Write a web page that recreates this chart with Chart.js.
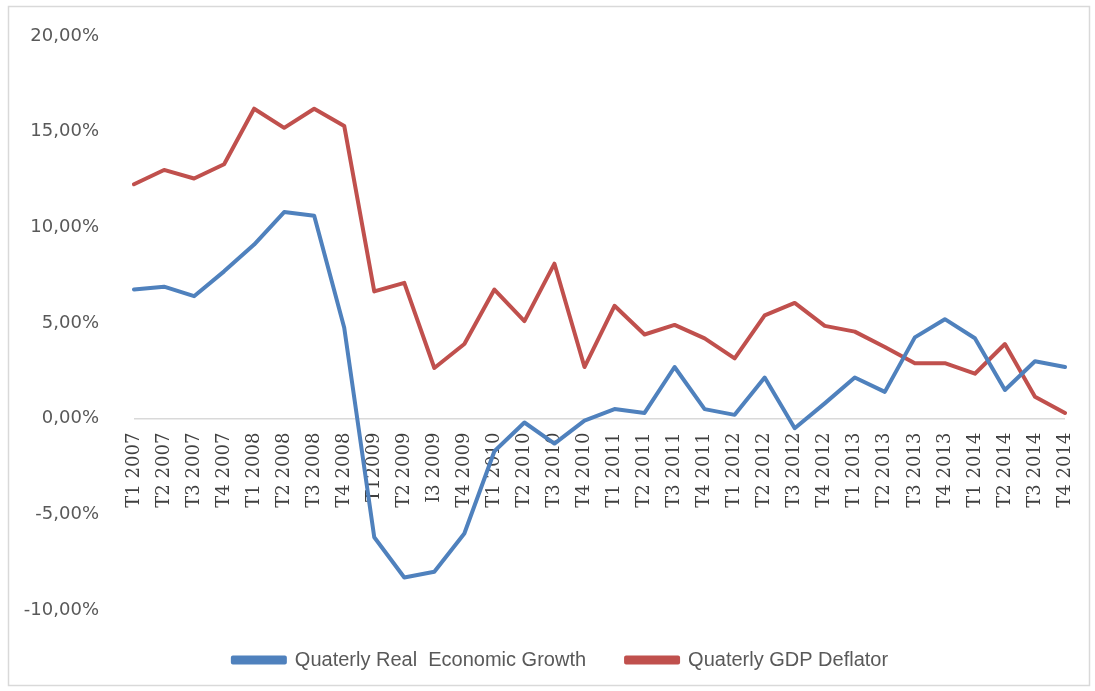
<!DOCTYPE html>
<html>
<head>
<meta charset="utf-8">
<script src="https://cdn.jsdelivr.net/npm/chart.js@4.4.1/dist/chart.umd.min.js"></script>
<style>
  html, body { margin: 0; padding: 0; background: #fff; }
  #wrap { width: 1095px; height: 691px; }
</style>
</head>
<body>
<div id="wrap"><canvas id="myLineChart"></canvas></div>
<script>
const quarters = [
  "T1 2007", "T2 2007", "T3 2007", "T4 2007",
  "T1 2008", "T? 2008", "T3 2008", "T4 2008",
  "T12009", "T2 2009", "I3 2009", "T4 2009",
  "T1 2010", "T2 2010", "T3 2010", "T4 2010",
  "T1 2011", "T2 2011", "T3 2011", "T4 2011",
  "T1 2012", "T2 2012", "T3 2012", "T4 2012",
  "T1 2013", "T2 2013", "T3 2013", "T4 2013",
  "T1 2014", "T2 2014", "T3 2014", "T4 2014",
];
quarters[5] = "T2 2008";

const realGrowth = [
  6.75, 6.9, 6.4, 7.7, 9.1, 10.8, 10.6, 4.75,
  -6.2, -8.3, -8.0, -6.0, -1.7, -0.2, -1.3, -0.1,
  0.5, 0.3, 2.7, 0.5, 0.2, 2.15, -0.5, 0.8,
  2.15, 1.4, 4.25, 5.2, 4.2, 1.5, 3.0, 2.7,
];

const gdpDeflator = [
  12.25, 13.0, 12.55, 13.3, 16.2, 15.2, 16.2, 15.3,
  6.65, 7.1, 2.65, 3.9, 6.75, 5.1, 8.1, 2.7,
  5.9, 4.4, 4.9, 4.2, 3.15, 5.4, 6.05, 4.85,
  4.55, 3.75, 2.9, 2.9, 2.35, 3.9, 1.15, 0.3,
];

const yTicks = [-10, -5, 0, 5, 10, 15, 20];

// grey frame round the whole chart
const frame = {
  id: "frame",
  beforeDraw(chart) {
    const { ctx } = chart;
    ctx.save();
    ctx.fillStyle = "#ffffff";
    ctx.fillRect(0, 0, chart.width, chart.height);
    ctx.strokeStyle = "#d9d9d9";
    ctx.lineWidth = 1.5;
    ctx.strokeRect(8.5, 6.5, 1081, 679);
    ctx.restore();
  },
};

// legend sits a bit right of the canvas centre in the original
const legendShift = {
  id: "legendShift",
  afterUpdate(chart) {
    const legend = chart.legend;
    legend.left += 28;
    legend.right += 28;
    legend.adjustHitBoxes();
  },
};

const ctx = document.getElementById("myLineChart").getContext("2d");

const myLineChart = new Chart(ctx, {
  type: "line",
  data: {
    labels: quarters,
    datasets: [
      {
        label: "Quaterly Real  Economic Growth",
        data: realGrowth,
        borderColor: "#4F81BD",
        backgroundColor: "#4F81BD",
        borderWidth: 4,
      },
      {
        label: "Quaterly GDP Deflator",
        data: gdpDeflator,
        borderColor: "#C0504D",
        backgroundColor: "#C0504D",
        borderWidth: 4,
      },
    ],
  },
  options: {
    responsive: true,
    maintainAspectRatio: false,
    animation: false,
    layout: {
      padding: { top: 36, right: 30, bottom: 11, left: 0 },
    },
    elements: {
      point: { radius: 0 },
      line: { tension: 0, borderCapStyle: "round", borderJoinStyle: "round" },
    },
    scales: {
      x: {
        position: { y: 0 },
        grid: { display: false },
        border: { display: false },
        ticks: {
          autoSkip: false,
          maxRotation: 90,
          minRotation: 90,
          padding: 6,
          color: "#404040",
          font: { family: "DejaVu Serif", size: 18 },
        },
      },
      y: {
        min: -10,
        max: 20,
        afterBuildTicks: (scale) => {
          scale.ticks = yTicks.map((v) => ({ value: v }));
        },
        afterFit: (scale) => {
          scale.width = 134;
          // tick padding would otherwise push the plot area in
          scale.paddingTop = 10;
          scale.paddingBottom = 10;
        },
        border: { display: false },
        grid: {
          drawTicks: false,
          lineWidth: 1.5,
          color: (c) => (c.tick && c.tick.value === 0 ? "#d9d9d9" : "rgba(0,0,0,0)"),
        },
        ticks: {
          padding: 35,
          color: "#595959",
          font: { family: "DejaVu Sans", size: 18 },
          callback: (v) => v.toFixed(2).replace(".", ",") + "%",
        },
      },
    },
    plugins: {
      legend: {
        position: "bottom",
        labels: {
          boxWidth: 52,
          boxHeight: 5,
          padding: 40,
          color: "#595959",
          font: { family: "'Liberation Sans'", size: 20 },
        },
      },
      tooltip: { enabled: false },
    },
  },
  plugins: [frame, legendShift],
});
</script>
</body>
</html>
